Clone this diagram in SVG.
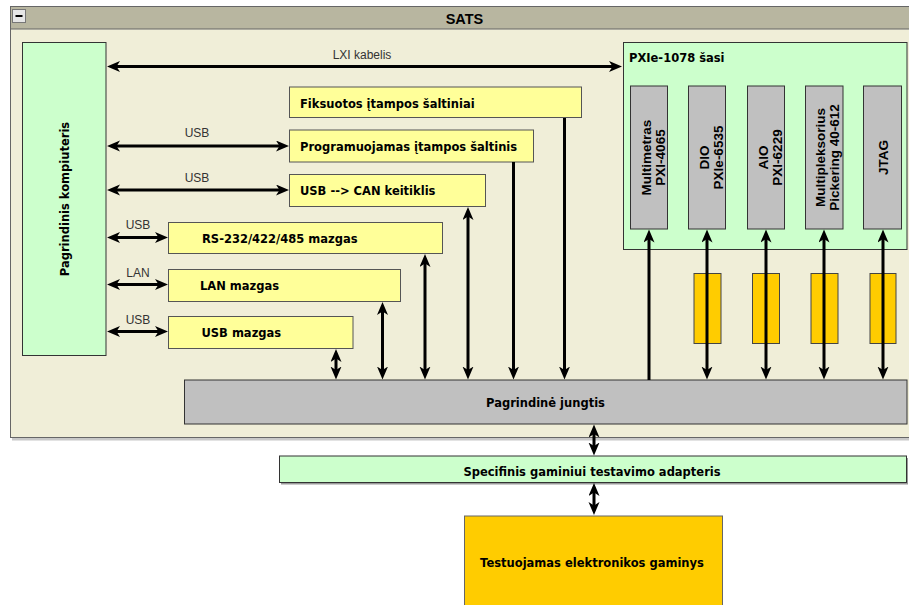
<svg xmlns="http://www.w3.org/2000/svg" width="909" height="605" viewBox="0 0 909 605">
<style>
.b{font-family:"DejaVu Sans","Noto Sans",sans-serif;font-weight:bold;font-size:11.5px;fill:#000}
.m{font-family:"Liberation Sans",Arial,sans-serif;font-weight:bold;font-size:13.5px;fill:#000}
.l{font-family:"Liberation Sans",Arial,sans-serif;font-size:12px;fill:#333}
.grn{fill:#ccffcc;stroke:#333;stroke-width:1}
.yel{fill:#ffff99;stroke:#555;stroke-width:1}
.gry{fill:#c0c0c0;stroke:#333;stroke-width:1}
.org{fill:#ffcc00;stroke:#444;stroke-width:1}
.c line{stroke:#000;stroke-width:3;fill:none}
.d{marker-start:url(#ah);marker-end:url(#ah)}
.e{marker-end:url(#ah)}
</style>
<defs>
<marker id="ah" markerUnits="userSpaceOnUse" markerWidth="14" markerHeight="12" refX="5" refY="5.5" orient="auto-start-reverse">
<path d="M0,0 L13,5.5 L0,11 L3.5,5.5 Z" fill="#000"/>
</marker>
</defs>
<rect width="909" height="605" fill="#fff"/>
<g id="sats">
<rect x="12" y="9" width="900" height="431.5" fill="#c8c8c8"/>
<rect x="10.5" y="6.5" width="905" height="431" fill="#f0eed8" stroke="#666" stroke-width="1"/>
<rect x="10.5" y="6.5" width="905" height="22.5" fill="#b8b6a0" stroke="#666" stroke-width="1"/>
<rect x="12.5" y="9.5" width="13" height="13" fill="#e6e6e6" stroke="#777" stroke-width="1"/>
<line x1="15.5" y1="16" x2="22.5" y2="16" stroke="#000" stroke-width="2"/>
<text x="464.5" y="24" text-anchor="middle" style="font-family:'Liberation Sans',Arial,sans-serif;font-weight:bold;font-size:14.5px;fill:#000">SATS</text>
</g>
<g id="pc">
<rect class="grn" x="22.5" y="42.5" width="83.5" height="313"/>
<text class="b" transform="translate(68.5,199) rotate(-90)" text-anchor="middle">Pagrindinis kompiuteris</text>
</g>
<g id="fiks">
<rect class="yel" x="289.5" y="87" width="292" height="30.5"/>
<text class="b" x="300" y="107.5">Fiksuotos įtampos šaltiniai</text>
</g>
<g id="prog">
<rect class="yel" x="289.5" y="130" width="244" height="32"/>
<text class="b" x="300" y="151">Programuojamas įtampos šaltinis</text>
</g>
<g id="can">
<rect class="yel" x="289.5" y="174.5" width="196" height="32"/>
<text class="b" x="300" y="195">USB --&gt; CAN keitiklis</text>
</g>
<g id="rs">
<rect class="yel" x="168.5" y="222.5" width="274" height="31"/>
<text class="b" x="202" y="243">RS-232/422/485 mazgas</text>
</g>
<g id="lan">
<rect class="yel" x="168.5" y="269.5" width="232" height="32"/>
<text class="b" x="200" y="290">LAN mazgas</text>
</g>
<g id="usb">
<rect class="yel" x="168.5" y="316.5" width="184.5" height="32"/>
<text class="b" x="201.5" y="337">USB mazgas</text>
</g>
<g id="pxie">
<rect class="grn" x="623.5" y="42.5" width="283.5" height="207"/>
<text class="b" x="629" y="61.5">PXIe-1078 šasi</text>
</g>
<g id="mod1">
<rect class="gry" x="630.5" y="86" width="37" height="143"/>
<text class="m" transform="translate(649,157.5) rotate(-90)" text-anchor="middle"><tspan x="0" y="1.5">Multimetras</tspan><tspan x="0" y="16">PXI-4065</tspan></text>
</g>
<g id="mod2">
<rect class="gry" x="688.5" y="86" width="37" height="143"/>
<text class="m" transform="translate(707,157.5) rotate(-90)" text-anchor="middle"><tspan x="0" y="1.5">DIO</tspan><tspan x="0" y="16">PXIe-6535</tspan></text>
</g>
<g id="mod3">
<rect class="gry" x="747.5" y="86" width="37" height="143"/>
<text class="m" transform="translate(766,157.5) rotate(-90)" text-anchor="middle"><tspan x="0" y="1.5">AIO</tspan><tspan x="0" y="16">PXI-6229</tspan></text>
</g>
<g id="mod4">
<rect class="gry" x="805.5" y="86" width="37.5" height="143"/>
<text class="m" transform="translate(824.5,157.5) rotate(-90)" text-anchor="middle"><tspan x="0" y="0">Multipleksorius</tspan><tspan x="0" y="14.5">Pickering 40-612</tspan></text>
</g>
<g id="mod5">
<rect class="gry" x="863.5" y="86" width="38" height="143"/>
<text class="m" transform="translate(887.5,157.5) rotate(-90)" text-anchor="middle">JTAG</text>
</g>
<g id="con1"><rect class="org" x="694" y="273.5" width="27" height="70"/></g>
<g id="con2"><rect class="org" x="752.5" y="273.5" width="27" height="70"/></g>
<g id="con3"><rect class="org" x="811" y="273.5" width="27" height="70"/></g>
<g id="con4"><rect class="org" x="870" y="273.5" width="26" height="70"/></g>
<g id="jungtis">
<rect class="gry" x="184.5" y="380" width="722.5" height="44"/>
<text class="b" x="545.5" y="406.5" text-anchor="middle">Pagrindinė jungtis</text>
</g>
<g id="adapter">
<rect x="281" y="458" width="627" height="26.5" fill="#999"/>
<rect class="grn" x="279.5" y="456" width="627" height="26.5"/>
<text class="b" x="592" y="475.5" text-anchor="middle">Specifinis gaminiui testavimo adapteris</text>
</g>
<g id="dut">
<rect class="org" x="464.5" y="516" width="258" height="100" style="stroke:#666"/>
<text class="b" x="592" y="566.5" text-anchor="middle">Testuojamas elektronikos gaminys</text>
</g>
<g id="connectors" class="c">
<line class="d" x1="115" y1="66.5" x2="614" y2="66.5"/>
<text class="l" x="362" y="59" text-anchor="middle">LXI kabelis</text>
<line class="d" x1="115" y1="146" x2="281" y2="146"/>
<text class="l" x="197" y="136.5" text-anchor="middle">USB</text>
<line class="d" x1="115" y1="190" x2="281" y2="190"/>
<text class="l" x="197" y="181.5" text-anchor="middle">USB</text>
<line class="d" x1="115" y1="237.5" x2="160" y2="237.5"/>
<text class="l" x="138" y="229" text-anchor="middle">USB</text>
<line class="d" x1="115" y1="284.5" x2="160" y2="284.5"/>
<text class="l" x="138" y="276.5" text-anchor="middle">LAN</text>
<line class="d" x1="115" y1="331.5" x2="160" y2="331.5"/>
<text class="l" x="138" y="324" text-anchor="middle">USB</text>
<line class="d" x1="336" y1="357" x2="336" y2="371.5"/>
<line class="d" x1="382.5" y1="310" x2="382.5" y2="371.5"/>
<line class="d" x1="425" y1="262" x2="425" y2="371.5"/>
<line class="d" x1="468" y1="215" x2="468" y2="371.5"/>
<line class="e" x1="513.5" y1="162" x2="513.5" y2="371.5"/>
<line class="e" x1="564.5" y1="118" x2="564.5" y2="371.5"/>
<line class="e" x1="649" y1="380" x2="649" y2="237.5"/>
<line class="d" x1="707" y1="237.5" x2="707" y2="371.5"/>
<line class="d" x1="766" y1="237.5" x2="766" y2="371.5"/>
<line class="d" x1="824" y1="237.5" x2="824" y2="371.5"/>
<line class="d" x1="883" y1="237.5" x2="883" y2="371.5"/>
<line class="d" x1="594" y1="432.5" x2="594" y2="447.5"/>
<line class="d" x1="594" y1="491" x2="594" y2="507"/>
</g>
</svg>
